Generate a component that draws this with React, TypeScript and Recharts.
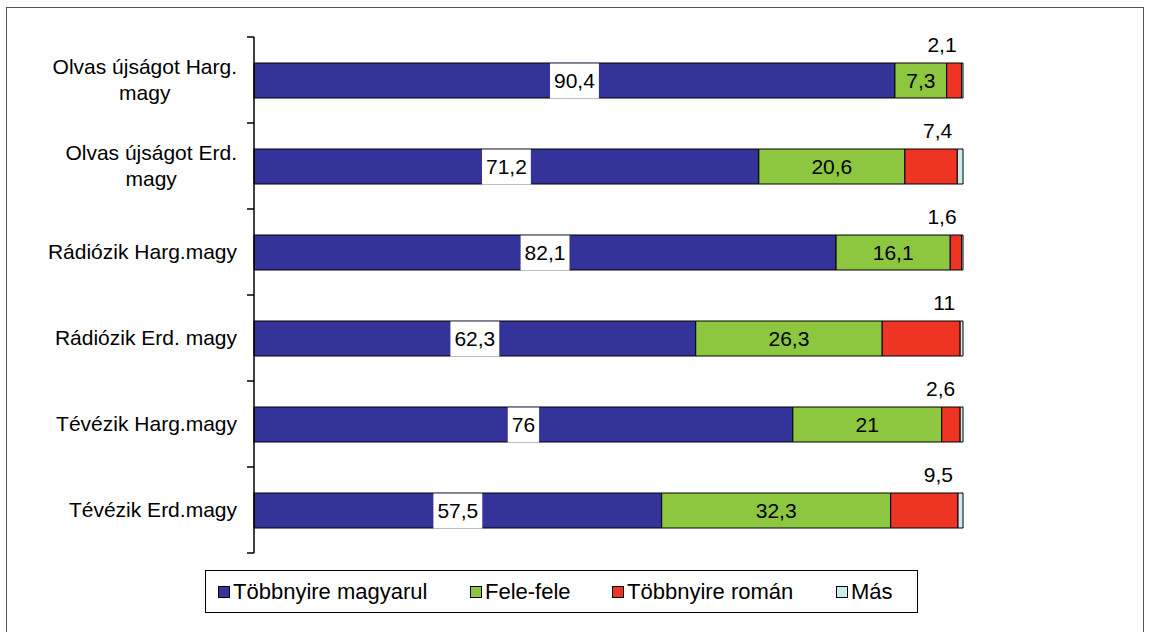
import React from 'react';
import { BarChart, Bar, XAxis, YAxis, LabelList } from 'recharts';

const categories = [
  'Olvas újságot Harg.\nmagy',
  'Olvas újságot Erd.\nmagy',
  'Rádiózik Harg.magy',
  'Rádiózik Erd. magy',
  'Tévézik Harg.magy',
  'Tévézik Erd.magy',
];
const magyarul = [90.4, 71.2, 82.1, 62.3, 76, 57.5];
const felefele = [7.3, 20.6, 16.1, 26.3, 21, 32.3];
const roman = [2.1, 7.4, 1.6, 11, 2.6, 9.5];
const mas = [0.2, 0.8, 0.2, 0.4, 0.4, 0.7];

const seriesNames = ['Többnyire magyarul', 'Fele-fele', 'Többnyire román', 'Más'];
const seriesKeys = ['magyarul', 'felefele', 'roman', 'mas'];
const seriesColors = ['#333399', '#8DC63F', '#EE3524', '#CDEBEF'];
const legendItemWidths = [252, 142, 224, 80];

const data = categories.map((name, i) => ({
  name,
  magyarul: magyarul[i],
  felefele: felefele[i],
  roman: roman[i],
  mas: mas[i],
}));

const FONT = '"Liberation Sans", Arial, sans-serif';
const FS = 21;
const W = 1150;
const H = 632;
const M = { top: 37, right: 187, bottom: 79, left: 0 };
const BAND = (H - M.top - M.bottom) / categories.length;

let ctx: any = null;
const measure = (s: string) => {
  if (!ctx) ctx = document.createElement('canvas').getContext('2d');
  ctx.font = `${FS}px ${FONT}`;
  return ctx.measureText(s).width;
};

const fmt = (v: any) => String(v).replace('.', ',');

const YTick = (props: any) => {
  const { x, y, payload, index } = props;
  const lines: string[] = String(payload.value).split('\n');
  const right = x;
  const axisX = x + 17;
  const widths = lines.map(measure);
  const maxW = Math.max(...widths);
  const cx = right - maxW / 2;
  const lh = 26;
  const y0 = y - ((lines.length - 1) * lh) / 2;
  return (
    <g>
      {lines.map((l, i) => (
        <text
          key={i}
          x={lines.length > 1 ? cx : right}
          y={y0 + i * lh}
          dy="0.355em"
          textAnchor={lines.length > 1 ? 'middle' : 'end'}
          fontSize={FS}
          fontFamily={FONT}
          fill="#000"
        >
          {l}
        </text>
      ))}
      <line x1={axisX - 7} x2={axisX} y1={y - BAND / 2} y2={y - BAND / 2} stroke="#000" strokeWidth={1.5} />
      {index === categories.length - 1 && (
        <line x1={axisX - 7} x2={axisX} y1={y + BAND / 2} y2={y + BAND / 2} stroke="#000" strokeWidth={1.5} />
      )}
    </g>
  );
};

const BoxLabel = (props: any) => {
  const { x, y, width, height, value } = props;
  const t = fmt(value);
  const tw = measure(t) + 8;
  const cx = x + width / 2;
  return (
    <g>
      <rect x={cx - tw / 2} y={y + 0.5} width={tw} height={height} fill="#fff" />
      <text x={cx} y={y + height / 2} dy="0.355em" textAnchor="middle" fontSize={FS} fontFamily={FONT} fill="#000">
        {t}
      </text>
    </g>
  );
};

const CenterLabel = (props: any) => {
  const { x, y, width, height, value } = props;
  return (
    <text x={x + width / 2} y={y + height / 2} dy="0.355em" textAnchor="middle" fontSize={FS} fontFamily={FONT} fill="#000">
      {fmt(value)}
    </text>
  );
};

const AboveLabel = (props: any) => {
  const { x, y, width, value } = props;
  return (
    <text x={x + width - 5} y={y - 11} textAnchor="end" fontSize={FS} fontFamily={FONT} fill="#000">
      {fmt(value)}
    </text>
  );
};

export default function App() {
  return (
    <div style={{ position: 'absolute', left: 0, top: 0, width: W, height: H, background: '#fff', overflow: 'hidden' }}>
      <div
        style={{
          position: 'absolute',
          left: 6,
          top: 7,
          width: W - 12,
          height: H + 20,
          border: '1.5px solid #555',
          boxSizing: 'border-box',
        }}
      />
      <div style={{ position: 'absolute', left: 0, top: 0 }}>
        <BarChart width={W} height={H} data={data} layout="vertical" margin={M} barSize={35}>
          <XAxis type="number" domain={[0, 100]} hide />
          <YAxis
            type="category"
            dataKey="name"
            width={254}
            axisLine={{ stroke: '#000', strokeWidth: 1.5 }}
            tickLine={false}
            tickSize={7}
            tickMargin={10}
            tick={<YTick />}
            interval={0}
          />
          <Bar dataKey="magyarul" stackId="a" fill={seriesColors[0]} stroke="#000" strokeWidth={1} isAnimationActive={false}>
            <LabelList dataKey="magyarul" content={<BoxLabel />} />
          </Bar>
          <Bar dataKey="felefele" stackId="a" fill={seriesColors[1]} stroke="#000" strokeWidth={1} isAnimationActive={false}>
            <LabelList dataKey="felefele" content={<CenterLabel />} />
          </Bar>
          <Bar dataKey="roman" stackId="a" fill={seriesColors[2]} stroke="#000" strokeWidth={1} isAnimationActive={false}>
            <LabelList dataKey="roman" content={<AboveLabel />} />
          </Bar>
          <Bar dataKey="mas" stackId="a" fill={seriesColors[3]} stroke="#000" strokeWidth={1} isAnimationActive={false} />
        </BarChart>
      </div>
      <div
        style={{
          position: 'absolute',
          left: 205,
          top: 570,
          width: 713,
          height: 43,
          border: '1.5px solid #000',
          boxSizing: 'border-box',
          display: 'flex',
          alignItems: 'center',
          justifyContent: 'flex-start',
          paddingLeft: 12,
          fontFamily: FONT,
          fontSize: 22,
          color: '#000',
          whiteSpace: 'nowrap',
        }}
      >
        {seriesKeys.map((k, i) => (
          <div key={k} style={{ display: 'flex', alignItems: 'center', width: legendItemWidths[i], flex: 'none' }}>
            <span
              style={{
                display: 'inline-block',
                width: 12,
                height: 12,
                background: seriesColors[i],
                border: '1.5px solid #000',
                boxSizing: 'border-box',
                marginRight: 3,
              }}
            />
            <span>{seriesNames[i]}</span>
          </div>
        ))}
      </div>
    </div>
  );
}
